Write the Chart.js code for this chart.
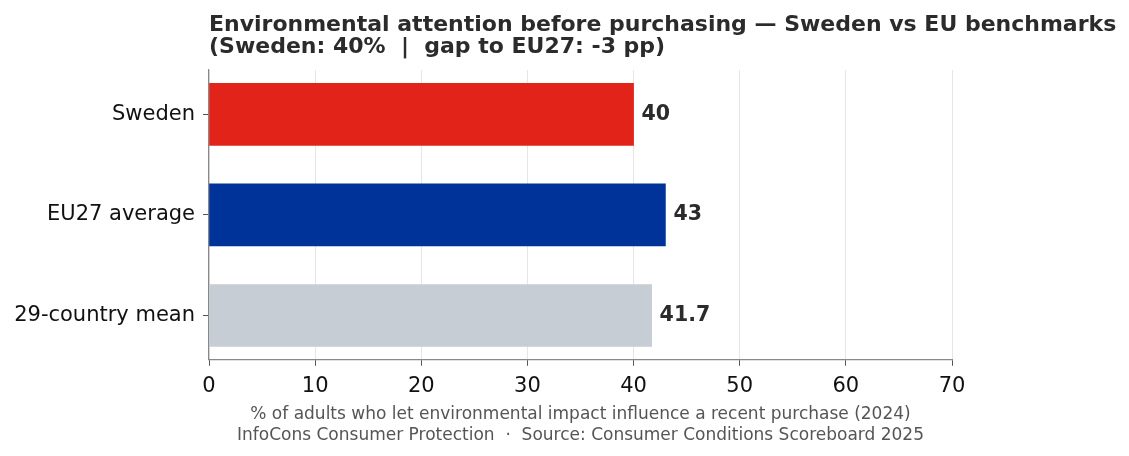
<!DOCTYPE html>
<html>
<head>
<meta charset="utf-8">
<script src="https://cdn.jsdelivr.net/npm/chart.js@4/dist/chart.umd.min.js"></script>
<style>
  html, body { margin: 0; padding: 0; background: #fff; }
  #wrap { width: 1129px; height: 456px; }
</style>
</head>
<body>
<div id="wrap"><canvas id="myChart"></canvas></div>
<script>
const categories = ['Sweden', 'EU27 average', '29-country mean'];
const values = [40, 43, 41.7];
const barColors = ['#e2231a', '#003399', '#c7cdd5'];
const xTicks = [0, 10, 20, 30, 40, 50, 60, 70];
const titleLines = [
  'Environmental attention before purchasing \u2014 Sweden vs EU benchmarks',
  '(Sweden: 40%  |  gap to EU27: -3 pp)'
];
const xTitleLines = [
  '% of adults who let environmental impact influence a recent purchase (2024)',
  'InfoCons Consumer Protection  \u00b7  Source: Consumer Conditions Scoreboard 2025'
];

const FONT = '"DejaVu Sans", sans-serif';

// title drawn at the left edge of the plot area
const titlePlugin = {
  id: 'leftTitle',
  afterDraw(chart) {
    const ctx = chart.ctx;
    ctx.save();
    ctx.font = 'bold 22px ' + FONT;
    ctx.fillStyle = '#2b2b2b';
    ctx.textAlign = 'left';
    ctx.textBaseline = 'alphabetic';
    ctx.fillText(titleLines[0], chart.chartArea.left, 31);
    ctx.fillText(titleLines[1], chart.chartArea.left, 53);
    ctx.restore();
  }
};

// value labels at the end of each bar
const valueLabels = {
  id: 'valueLabels',
  afterDatasetsDraw(chart) {
    const ctx = chart.ctx;
    const meta = chart.getDatasetMeta(0);
    ctx.save();
    ctx.font = 'bold 20.5px ' + FONT;
    ctx.fillStyle = '#2b2b2b';
    ctx.textAlign = 'left';
    ctx.textBaseline = 'middle';
    meta.data.forEach((bar, i) => {
      ctx.fillText(String(values[i]), bar.x + 8, bar.y);
    });
    ctx.restore();
  }
};

new Chart(document.getElementById('myChart'), {
  type: 'bar',
  data: {
    datasets: [{
      data: values.map((v, i) => ({ x: v, y: i })),
      backgroundColor: barColors,
      barThickness: 62,
      borderWidth: 0
    }]
  },
  options: {
    indexAxis: 'y',
    responsive: true,
    maintainAspectRatio: false,
    animation: false,
    layout: { padding: { top: 70, right: 177, bottom: 10.4, left: 10 } },
    plugins: {
      legend: { display: false },
      tooltip: { enabled: false },
      title: { display: false }
    },
    scales: {
      x: {
        type: 'linear',
        min: 0,
        max: 70,
        afterBuildTicks: axis => { axis.ticks = xTicks.map(v => ({ value: v })); },
        grid: { color: '#e6e6e6', lineWidth: 1, tickColor: '#555', tickLength: 6 },
        border: { display: true, color: '#888', width: 1.2 },
        ticks: { color: '#111', font: { family: FONT, size: 21, lineHeight: 1.0 }, padding: 10 },
        title: {
          display: true,
          text: xTitleLines,
          color: '#555',
          font: { family: FONT, size: 17 },
          padding: { top: -2, bottom: 0 }
        }
      },
      y: {
        type: 'linear',
        reverse: true,
        offset: false,
        min: -0.441,
        max: 2.441,
        afterBuildTicks: axis => { axis.ticks = categories.map((c, i) => ({ value: i })); },
        afterFit: axis => { axis.width = 199; },
        grid: { offset: false, drawOnChartArea: false, tickColor: '#555', tickLength: 6 },
        border: { display: true, color: '#888', width: 1.2 },
        ticks: {
          color: '#111',
          font: { family: FONT, size: 21 },
          padding: 8,
          callback: v => categories[v]
        }
      }
    }
  },
  plugins: [titlePlugin, valueLabels]
});
</script>
</body>
</html>
